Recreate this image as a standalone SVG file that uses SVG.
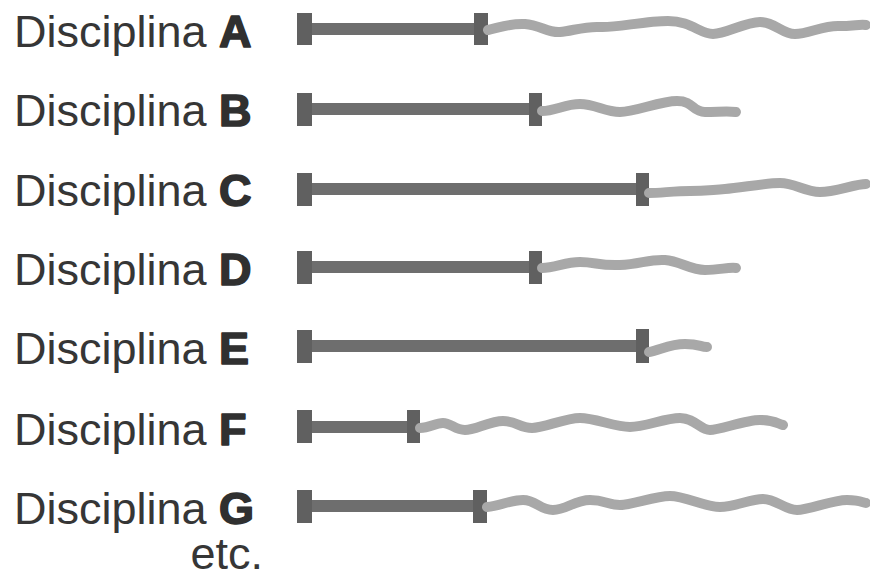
<svg xmlns="http://www.w3.org/2000/svg" width="870" height="575" viewBox="0 0 870 575">
<style>
  text { font-family: "Liberation Sans", Arial, sans-serif; font-size: 45px; fill: #363636; }
  .b { font-weight: bold; fill: #303030; stroke: #303030; stroke-width: 1.6; stroke-linejoin: round; }
  .bar { fill: #6e6e6e; }
  .cap { fill: #606060; }
  .wave { fill: none; stroke: #a8a8a8; stroke-width: 10; stroke-linecap: round; stroke-linejoin: round; }
</style>
<rect width="870" height="575" fill="#ffffff"/>
<g id="row-A">
  <text x="14" y="47">Disciplina <tspan class="b">A</tspan></text>
  <rect class="bar" x="310" y="23" width="166" height="12"/>
  <rect class="cap" x="297" y="13" width="15" height="32"/>
  <rect class="cap" x="474" y="13" width="14" height="32"/>
</g>
<g id="row-B">
  <text x="14" y="126">Disciplina <tspan class="b">B</tspan></text>
  <rect class="bar" x="310" y="103" width="221" height="12"/>
  <rect class="cap" x="297" y="93" width="15" height="33"/>
  <rect class="cap" x="529" y="93" width="13" height="33"/>
</g>
<g id="row-C">
  <text x="14" y="206">Disciplina <tspan class="b">C</tspan></text>
  <rect class="bar" x="310" y="183" width="328" height="12"/>
  <rect class="cap" x="297" y="173" width="15" height="33"/>
  <rect class="cap" x="636" y="173" width="13" height="33"/>
</g>
<g id="row-D">
  <text x="14" y="285">Disciplina <tspan class="b">D</tspan></text>
  <rect class="bar" x="310" y="261" width="221" height="12"/>
  <rect class="cap" x="297" y="251" width="15" height="33"/>
  <rect class="cap" x="529" y="251" width="13" height="33"/>
</g>
<g id="row-E">
  <text x="14" y="364">Disciplina <tspan class="b">E</tspan></text>
  <rect class="bar" x="310" y="340" width="328" height="12"/>
  <rect class="cap" x="297" y="330" width="15" height="33"/>
  <rect class="cap" x="636" y="329" width="13" height="34"/>
</g>
<g id="row-F">
  <text x="14" y="445">Disciplina <tspan class="b">F</tspan></text>
  <rect class="bar" x="310" y="421" width="99" height="12"/>
  <rect class="cap" x="297" y="410" width="15" height="33"/>
  <rect class="cap" x="407" y="410" width="13" height="33"/>
</g>
<g id="row-G">
  <text x="14" y="524">Disciplina <tspan class="b">G</tspan></text>
  <rect class="bar" x="310" y="500" width="165" height="12"/>
  <rect class="cap" x="297" y="490" width="15" height="33"/>
  <rect class="cap" x="473" y="490" width="14" height="33"/>
</g>
<g id="etc">
  <text x="263" y="569" text-anchor="end">etc.</text>
</g>
<g id="connectors">
  <path class="wave" d="M488,30 C498,28 510,23 525,24 S548,33 560,32 S585,26 600,27 S645,21 668,21 S700,34 713,34 S745,22 760,22 S782,34 795,34 S822,26 838,26 S860,24 866,25"/>
  <path class="wave" d="M542,111 C555,111 565,104 580,104 S605,112 620,112 S660,101 677,101 S692,112 705,112 S728,111 736,112"/>
  <path class="wave" d="M649,193 C660,193 675,191 690,191 S710,190 725,189 S765,183 780,183 S805,192 820,192 S855,184 866,184"/>
  <path class="wave" d="M542,268 C555,268 565,262 580,262 S600,266 620,265 S650,259 665,260 S690,270 705,270 S728,267 736,268"/>
  <path class="wave" d="M649,352 C660,350 670,344 685,344 S700,347 707,347"/>
  <path class="wave" d="M420,428 C430,428 435,423 443,423 S455,430 465,430 S490,421 503,421 S520,428 532,428 S565,418 580,418 S615,427 630,427 S665,418 680,418 S700,430 710,430 S745,420 760,420 S778,424 783,425"/>
  <path class="wave" d="M487,507 C500,506 510,500 523,500 S540,510 553,510 S575,500 590,500 S608,505 620,505 S655,496 670,496 S705,507 720,507 S750,499 763,499 S785,510 797,510 S832,500 847,500 S862,503 866,503"/>
</g>
</svg>
